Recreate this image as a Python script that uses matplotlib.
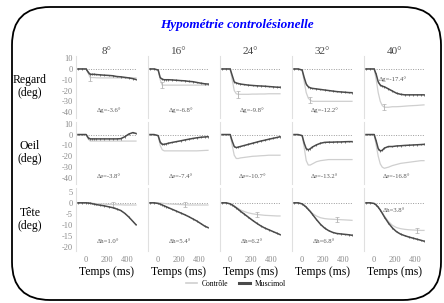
# plot.py
# Gaze / eye / head traces (control vs muscimol) for five target amplitudes.

import matplotlib.pyplot as plt
from matplotlib.patches import FancyBboxPatch
from matplotlib.lines import Line2D
from matplotlib.transforms import IdentityTransform

plt.rcParams['font.family'] = ['Liberation Serif', 'DejaVu Serif']
plt.rcParams['axes.unicode_minus'] = False

# ---- data ----
amplitudes = ["8°", "16°", "24°", "32°", "40°"]
time_ms = [-80, -40, 0, 20, 40, 60, 80, 100, 140, 180, 220, 260, 300, 340, 380, 420, 460, 490]

gaze_musc = [
    [0, 0, 0, -3, -5, -5, -5, -5.2, -5.5, -5.8, -6, -6.3, -7, -7.3, -7.8, -8.3, -9, -9.8],
    [0, 0, -1, -8, -9.5, -10, -10, -10, -10.2, -10.5, -10.8, -11, -11.5, -11.8, -12.5, -13.2, -13.8, -14],
    [0, 0, 0, -6, -12, -13, -13.5, -14, -14.5, -15, -15.3, -15.6, -15.8, -16, -16.3, -16.6, -16.9, -17],
    [0, 0, -1, -8, -14, -16.5, -17.5, -18, -18.5, -19, -19.5, -20, -20.5, -21, -21.3, -21.6, -21.9, -22],
    [0, 0, 0, -5, -12, -15, -16, -16.5, -18.5, -20.5, -22.5, -23.5, -24, -24, -24, -24, -24, -24],
]
gaze_ctrl = [
    [0, 0, 0, -4, -8, -8, -8, -8.2, -8.3, -8.3, -8.3, -8.3, -8.3, -8.3, -8.3, -8.3, -8.3, -8.3],
    [0, 0, -1, -10, -15, -15, -15, -15, -15, -15, -15, -15, -15, -15, -15, -15, -15, -15],
    [0, 0, 0, -10, -20, -23, -23.5, -23.5, -23.5, -23.5, -23.3, -23.3, -23.2, -23.2, -23, -23, -23, -23],
    [0, 0, -1, -12, -22, -27, -29, -30, -30, -30, -30, -30, -30, -30, -30, -30, -30, -30],
    [0, 0, 0, -10, -22, -30, -34, -35.5, -35.5, -35, -35, -34.8, -34.5, -34.2, -34, -33.8, -33.5, -33.3],
]
eye_musc = [
    [0, 0, 0, -3, -4, -4, -4, -4, -4, -4, -4, -4, -4, -3.8, -2, 0.5, 1.8, 1],
    [0, 0, -1, -7, -9, -9, -8.5, -8, -7.2, -6.5, -5.8, -5, -4.3, -3.6, -3, -2.5, -2.2, -2],
    [0, 0, 0, -6, -11, -12, -11.5, -11, -10, -9, -8, -7, -6, -5.2, -4.3, -3.5, -2.7, -2],
    [0, 0, -1, -8, -13, -14, -13, -11.5, -9.5, -8, -7.2, -7, -7, -6.8, -6.8, -6.6, -6.5, -6.5],
    [0, 0, 0, -6, -13, -15, -14.5, -12.5, -11, -11, -10.5, -10.3, -10, -9.8, -9.6, -9.4, -9.2, -9],
]
eye_ctrl = [
    [0, 0, 0, -4, -6, -6, -6, -6, -6, -6, -6, -6, -6, -6, -6, -6, -6, -6],
    [0, 0, -1, -10, -14, -15, -15, -15, -15, -15, -15, -15, -15, -15, -15, -14.8, -14.6, -14.5],
    [0, 0, 0, -10, -19, -22, -22, -21.5, -21, -20.5, -20, -19.8, -19.5, -19.3, -19, -19, -19, -19],
    [0, 0, -1, -12, -24, -28, -28, -27, -25, -24, -23.5, -23, -23, -23, -23, -23, -23, -23],
    [0, 0, 0, -10, -20, -27, -30, -31, -30, -28.5, -27.5, -26.5, -26, -25.5, -25, -24.5, -24, -24],
]
head_musc = [
    [0, 0, 0, -0.1, -0.2, -0.4, -0.6, -0.8, -1.1, -1.4, -1.8, -2.2, -2.8, -3.5, -4.8, -6.5, -8.5, -10],
    [0, 0, -0.3, -0.6, -1, -1.4, -1.8, -2.2, -3, -3.8, -4.6, -5.4, -6.3, -7.3, -8.3, -9.5, -10.7, -11.3],
    [0, 0, -0.5, -1, -1.6, -2.3, -3, -3.8, -5.2, -6.6, -8, -9.3, -10.5, -11.5, -12.3, -13.1, -13.9, -14.5],
    [0, 0, -0.5, -1.2, -2, -3, -4, -5.2, -7.6, -9.8, -11.5, -12.7, -13.5, -14, -14.2, -14.4, -14.6, -14.8],
    [0, 0, -0.3, -1, -2, -3.3, -4.8, -6.4, -9.2, -11.5, -13.2, -14.3, -15, -15.6, -16.1, -16.6, -17.1, -17.5],
]
head_ctrl = [
    [0, 0, 0, 0, -0.1, -0.2, -0.3, -0.4, -0.5, -0.6, -0.7, -0.8, -0.9, -0.9, -1, -1, -1, -1],
    [0, 0, 0, -0.1, -0.2, -0.3, -0.4, -0.5, -0.6, -0.7, -0.8, -0.9, -1, -1, -1, -1, -1, -1],
    [0, 0, -0.3, -0.8, -1.4, -2, -2.6, -3.2, -4, -4.6, -5, -5.3, -5.5, -5.7, -5.8, -5.9, -6, -6],
    [0, 0, -0.4, -1, -1.8, -2.8, -3.8, -4.8, -6, -6.8, -7.2, -7.4, -7.5, -7.6, -7.7, -7.8, -7.9, -8],
    [0, 0, -0.3, -1, -2, -3.2, -4.5, -6, -8.5, -10.3, -11.3, -11.8, -12.1, -12.3, -12.4, -12.5, -12.6, -12.6],
]

# time at which the control end-point (with its error bar) is marked
gaze_ctrl_mark = [40, 40, 80, 80, 100]
head_ctrl_mark = [260, 260, 260, 340, 420]

delta_gaze = ["Δg=-3.6°", "Δg=-6.8°", "Δg=-9.8°", "Δg=-12.2°", "Δg=-17.4°"]
delta_eye = ["Δe=-3.8°", "Δe=-7.4°", "Δe=-10.7°", "Δe=-13.2°", "Δe=-16.8°"]
delta_head = ["Δh=1.0°", "Δh=5.4°", "Δh=6.2°", "Δh=6.8°", "Δh=3.8°"]

# ---- layout (pixels of a 444x303 figure) ----
W, H = 444, 303
col_left = [76, 148, 220, 292, 364]
col_w = 61
rows_px = [(56, 117.5), (121.5, 183.5), (187.5, 251)]
row_names = ["Regard\n(deg)", "Oeil\n(deg)", "Tête\n(deg)"]
row_ylim = [(-45, 12), (-45, 12), (-22, 7)]
row_yticks = [[10, 0, -10, -20, -30, -40], [10, 0, -10, -20, -30, -40], [5, 0, -5, -10, -15, -20]]

musc_col = "#4a4a4a"
ctrl_col = "#cfcfcf"
tick_col = "#8a8a8a"

fig = plt.figure(figsize=(W / 100, H / 100), dpi=100)

rows = [
    (gaze_musc, gaze_ctrl, gaze_ctrl_mark, delta_gaze, 3.0, 0.8),
    (eye_musc, eye_ctrl, None, delta_eye, 3.0, 0.8),
    (head_musc, head_ctrl, head_ctrl_mark, delta_head, 1.2, 0.35),
]

for r, (musc, ctrl, marks, deltas, cerr, merr) in enumerate(rows):
    top, bot = rows_px[r]
    for c in range(5):
        ax = fig.add_axes([col_left[c] / W, (H - bot) / H, col_w / W, (bot - top) / H])
        ax.set_xlim(-100, 500)
        ax.set_ylim(*row_ylim[r])
        ax.axhline(0, color="#9a9a9a", ls=(0, (1, 1.5)), lw=0.7, zorder=1)

        ax.plot(time_ms, ctrl[c], color=ctrl_col, lw=0.9, zorder=2)
        if marks is not None:
            i = time_ms.index(marks[c])
            ax.errorbar([time_ms[i]], [ctrl[c][i]], yerr=cerr, color="#b0b0b0",
                        elinewidth=0.6, capsize=1.2, capthick=0.5, fmt="none", zorder=2)
        ax.errorbar(time_ms, musc[c], yerr=merr, color=musc_col, lw=1.1,
                    elinewidth=0.5, capsize=0, zorder=3)

        # amplitude-difference label
        if r == 0 and c == 4:
            tx, ty = 180, -9.3
        elif r == 2 and c == 4:
            tx, ty = 190, -3.6
        elif r == 2:
            tx, ty = 210, -17.6
        else:
            tx, ty = 220, -38.5
        ax.text(tx, ty, deltas[c], fontsize=4.8, color="#555555", ha="center", va="center")

        for s in ["top", "right", "bottom"]:
            ax.spines[s].set_visible(False)
        ax.spines["left"].set_color("#e0e0e0")
        ax.spines["left"].set_linewidth(0.8)
        ax.tick_params(length=0, labelsize=6, labelcolor=tick_col, pad=2.5)
        ax.set_yticks(row_yticks[r])
        ax.set_xticks([0, 200, 400])
        if c != 0:
            ax.set_yticklabels([])
        if r != 2:
            ax.set_xticklabels([])
        else:
            ax.tick_params(axis="x", pad=3.5)
            ax.set_xlabel("Temps (ms)", fontsize=8.5, labelpad=1.5)
        if r == 0:
            ax.set_title(amplitudes[c], fontsize=8, color="#444444", pad=0.5)

    fig.text(30 / W, 1 - (top + bot) / 2 / H, row_names[r], ha="center", va="center",
             fontsize=8.5, linespacing=1.15)

fig.text(237 / W, 1 - 25 / H, "Hypométrie controlésionelle", ha="center", va="center",
         color="#0000ff", fontsize=9.5, fontweight="bold", fontstyle="italic")

handles = [Line2D([], [], color=ctrl_col, lw=1.2), Line2D([], [], color=musc_col, lw=2.2)]
fig.legend(handles, ["Contrôle", "Muscimol"], loc="center", bbox_to_anchor=(236 / W, 1 - 284 / H),
           ncol=2, frameon=False, fontsize=5.5, handlelength=1.4, columnspacing=1.5, handletextpad=0.6)

frame = FancyBboxPatch((12, 3), 429, 293, boxstyle="round,pad=0,rounding_size=38",
                       transform=IdentityTransform(), fill=False, ec="black", lw=1.3)
fig.add_artist(frame)

fig.savefig("out.png", dpi=100)
